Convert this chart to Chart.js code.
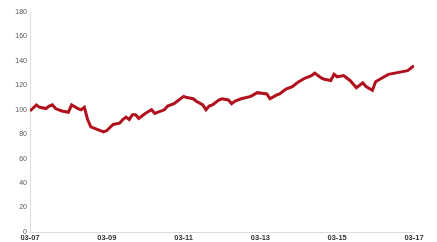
<!DOCTYPE html>
<html>
<head>
<meta charset="utf-8">
<script src="https://cdn.jsdelivr.net/npm/chart.js@4"></script>
<style>
  html, body { margin: 0; padding: 0; background: #fff; }
  #wrap { width: 437px; height: 242px; }
</style>
</head>
<body>
<div id="wrap"><canvas id="chart"></canvas></div>
<script>
// months counted from 03-07 (March 2007)
const months = [0, 2, 3, 5, 6, 7, 8, 9, 10, 12, 13, 15, 16, 17, 18, 19, 21, 23, 24, 26,
  28, 29, 30, 31, 32, 33, 34, 36, 38, 39, 40, 42, 43, 45, 46, 48, 49, 51, 52, 54,
  55, 56, 57, 59, 60, 62, 63, 64, 66, 69, 71, 74, 75, 77, 78, 80, 82, 84, 86, 88,
  89, 91, 92, 94, 95, 96, 98, 100, 102, 104, 105, 107, 108, 110, 112, 116, 118, 120];
const values = [99, 104, 102, 101, 103, 104, 101, 100, 99, 98, 104, 101, 100, 102, 92, 86, 84, 82, 83, 88,
  89, 92, 94, 92, 96, 96, 93, 97, 100, 97, 98, 100, 103, 105, 107, 111, 110, 109, 107, 104,
  100, 103, 104, 108, 109, 108, 105, 107, 109, 111, 114, 113, 109, 112, 113, 117, 119, 123, 126, 128,
  130, 126, 125, 124, 129, 127, 128, 124, 118, 122, 119, 116, 123, 126, 129, 131, 132, 136];
const tickLabels = ["03-07", "03-09", "03-11", "03-13", "03-15", "03-17"];

const points = months.map((m, i) => ({ x: m, y: values[i] }));

new Chart(document.getElementById("chart"), {
  type: "line",
  data: {
    datasets: [{
      data: points,
      borderColor: "#b0111d",
      borderWidth: 3,
      pointRadius: 0,
      tension: 0,
      fill: false
    }]
  },
  options: {
    responsive: true,
    maintainAspectRatio: false,
    animation: false,
    layout: { padding: { top: 12, right: 23, left: 0, bottom: 0 } },
    plugins: { legend: { display: false }, tooltip: { enabled: false } },
    scales: {
      x: {
        type: "linear",
        min: 0,
        max: 120,
        grid: { display: false, drawTicks: false },
        border: { display: true, color: "#dcdcdc", width: 1 },
        ticks: {
          stepSize: 24,
          padding: 1,
          color: "#333",
          font: { family: "Liberation Sans", size: 7.5, weight: "bold" },
          maxRotation: 0,
          callback: (v) => tickLabels[v / 24]
        },
        afterFit: (s) => { s.height = 10; }
      },
      y: {
        min: 0,
        max: 180,
        grid: { display: false, drawTicks: false },
        border: { display: true, color: "#dcdcdc", width: 1 },
        ticks: {
          stepSize: 20,
          padding: 3,
          color: "#555",
          font: { family: "Liberation Sans", size: 7 }
        },
        afterFit: (s) => { s.width = 30; }
      }
    }
  }
});
</script>
</body>
</html>
